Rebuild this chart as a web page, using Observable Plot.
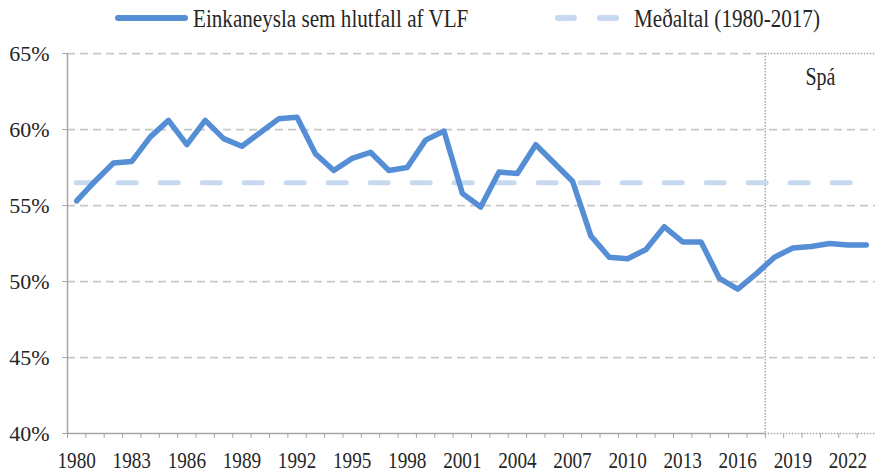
<!DOCTYPE html>
<html><head><meta charset="utf-8">
<script src="https://cdn.jsdelivr.net/npm/d3@7"></script>
<script src="https://cdn.jsdelivr.net/npm/@observablehq/plot@0.6"></script>
<style>
html,body{margin:0;padding:0;background:#fff;}
#chart{width:875px;height:474px;position:relative;font-family:"Liberation Serif","Times New Roman",serif;color:#262626;}
#legend{position:relative;height:40px;width:875px;}
#legend svg{position:absolute;left:0;top:0;}
.lg{position:absolute;top:6px;font-size:25px;line-height:25px;white-space:nowrap;transform:scaleX(0.845);transform-origin:0 0;}
</style></head><body>
<div id="chart"><div id="legend"></div></div>
<script>
// Categories
const years = [1980,1981,1982,1983,1984,1985,1986,1987,1988,1989,
               1990,1991,1992,1993,1994,1995,1996,1997,1998,1999,
               2000,2001,2002,2003,2004,2005,2006,2007,2008,2009,
               2010,2011,2012,2013,2014,2015,2016,2017,2018,2019,
               2020,2021,2022,2023];
// Einkaneysla sem hlutfall af VLF (%)
const share = [55.3,56.6,57.8,57.9,59.5,60.6,59.0,60.6,59.4,58.9,
               59.8,60.7,60.8,58.4,57.3,58.1,58.5,57.3,57.5,59.3,
               59.9,55.8,54.9,57.2,57.1,59.0,57.8,56.6,53.0,51.6,
               51.5,52.1,53.6,52.6,52.6,50.2,49.5,50.5,51.6,52.2,
               52.3,52.5,52.4,52.4];
// Meðaltal (1980-2017)
const meanValue = 56.5;
const seriesNames = ["Einkaneysla sem hlutfall af VLF", "Meðaltal (1980-2017)"];
const xTickLabels = [1980,1983,1986,1989,1992,1995,1998,2001,2004,2007,2010,2013,2016,2019,2022];
const yTicks = [40,45,50,55,60,65];
const forecastLabel = "Spá";
const lastActualYear = 2017;

const lineColor = "#558ED5", meanColor = "#C6D9F1";

// legend
const legend = document.getElementById("legend");
legend.innerHTML = `<svg width="875" height="40">
 <line x1="118" x2="185" y1="18" y2="18" stroke="${lineColor}" stroke-width="6" stroke-linecap="round"/>
 <line x1="558" x2="617" y1="18" y2="18" stroke="${meanColor}" stroke-width="6" stroke-linecap="round" stroke-dasharray="16,26"/>
</svg>
<div class="lg" style="left:193px">${seriesNames[0]}</div>
<div class="lg" style="left:634px">${seriesNames[1]}</div>`;

const data = years.map((y, i) => ({year: y, value: share[i]}));
const xDomain = [years[0] - 0.5, years[years.length - 1] + 0.5];
const tickBounds = years.map(y => y - 0.5).concat([years[years.length - 1] + 0.5]);
const forecastStart = lastActualYear + 0.5;
const grid = {stroke: "#c8c8c8", strokeWidth: 1.75, strokeDasharray: "8,5"};
const dotted = {stroke: "#a6a6a6", strokeWidth: 1.5, strokeDasharray: "1.5,1.5"};
const axisLine = {stroke: "#a6a6a6", strokeWidth: 1.5};

const plot = Plot.plot({
  width: 875, height: 434,
  marginTop: 13, marginBottom: 41, marginLeft: 67, marginRight: 0,
  style: {fontFamily: "Liberation Serif, Times New Roman, serif", fontSize: "22px", color: "#262626", background: "white", overflow: "visible"},
  x: {domain: xDomain, ticks: tickBounds, tickFormat: () => "", tickSize: 5, label: null},
  y: {domain: [yTicks[0], yTicks[yTicks.length - 1]], ticks: yTicks, tickFormat: d => d + "%", tickSize: 5, tickPadding: 13, label: null},
  marks: [
    Plot.ruleY(yTicks.filter(v => v > yTicks[0] && v < yTicks[yTicks.length - 1]), grid),
    Plot.ruleY([yTicks[yTicks.length - 1]], {x1: xDomain[0], x2: forecastStart, ...grid}),
    Plot.ruleY([yTicks[yTicks.length - 1]], {x1: forecastStart, x2: xDomain[1], ...dotted}),
    Plot.ruleX([forecastStart], dotted),
    Plot.ruleY([yTicks[0]], {x1: xDomain[0], x2: forecastStart, ...axisLine}),
    Plot.ruleY([yTicks[0]], {x1: forecastStart, x2: xDomain[1], ...dotted}),
    Plot.ruleX([xDomain[0]], axisLine),
    Plot.ruleY([meanValue], {x1: years[0], x2: years[years.length - 1], stroke: meanColor, strokeWidth: 5, strokeDasharray: "18,24", strokeLinecap: "round"}),
    Plot.line(data, {x: "year", y: "value", stroke: lineColor, strokeWidth: 5.5, strokeLinejoin: "round", strokeLinecap: "round"}),
    Plot.text(xTickLabels, {x: d => d, text: d => String(d), frameAnchor: "bottom", dy: 27, lineAnchor: "middle", fontSize: 24, fill: "#262626"}),
    Plot.text([forecastLabel], {x: () => (forecastStart + xDomain[1]) / 2, text: d => d, frameAnchor: "top", dy: 23.5, lineAnchor: "middle", fontSize: 25, fill: "#262626"})
  ]
});

// axis tick colour
plot.querySelectorAll('g[aria-label^="x-axis"], g[aria-label^="y-axis"]').forEach(g => {
  const lab = g.getAttribute("aria-label");
  g.querySelectorAll("line,path").forEach(el => el.setAttribute("stroke", "#a6a6a6"));
  if (lab.includes("tick") && !lab.includes("label")) g.setAttribute("stroke", "#a6a6a6");
});
// narrow serif look of the labels
plot.querySelectorAll("text").forEach(t => {
  const s = t.textContent;
  const tr = t.getAttribute("transform");
  if (tr && tr.includes("translate") && (/^\d{4}$/.test(s) || s === forecastLabel)) {
    t.setAttribute("transform", tr + " scale(0.8,1)");
  }
});
document.getElementById("chart").appendChild(plot);
</script>
</body></html>
